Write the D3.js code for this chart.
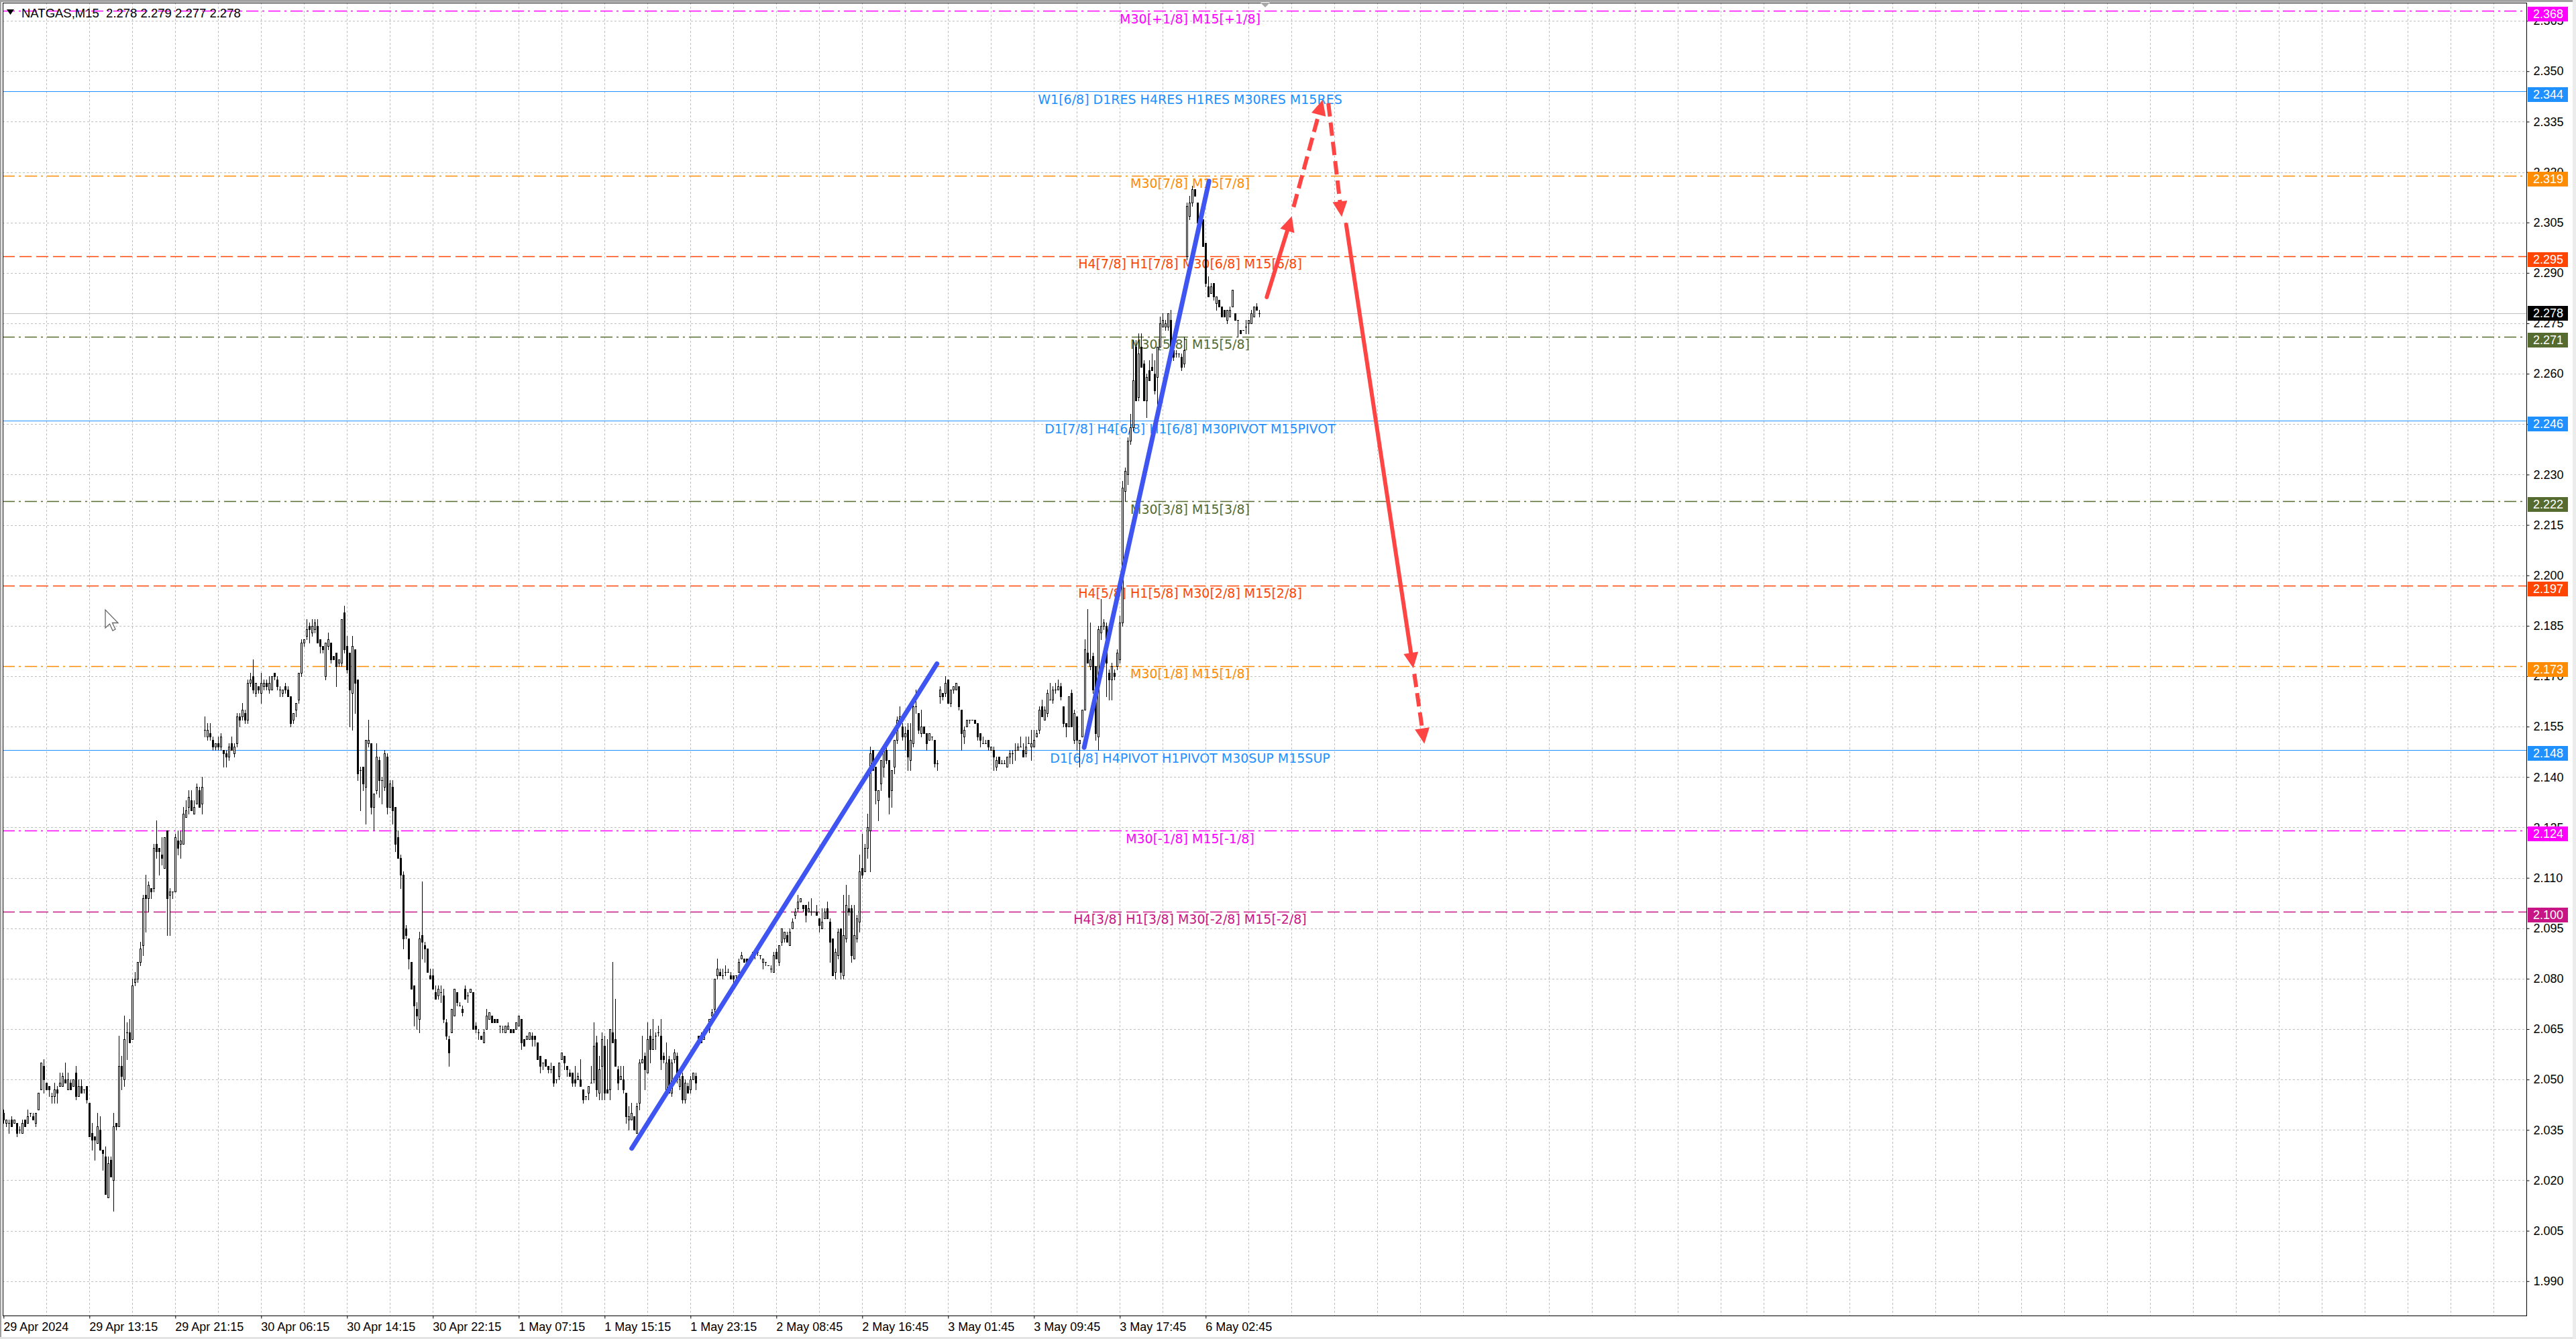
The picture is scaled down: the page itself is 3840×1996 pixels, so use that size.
<!DOCTYPE html>
<html>
<head>
<meta charset="utf-8">
<script src="https://cdn.jsdelivr.net/npm/d3@7"></script>
<style>
html, body { margin: 0; padding: 0; background: #fff; overflow: hidden; }
svg { display: block; }
</style>
</head>
<body>
<svg id="chart" width="3840" height="1996"></svg>
<script>
// NATGAS M15 candles, prices kept as thousandths above 2.000 (38 -> 2.038)
const opens = [
	40,37,37,38,37,37,35,34,38,37, 40,39,37,41,47,54,49,48,45,45,
	47,48,48,50,47,49,48,52,45,48, 47,48,43,34,33,31,35,29,27,15,
	26,20,37,36,54,50,64,64,62,79, 80,85,90,105,104,107,107,120,119,117,
	113,124,105,106,106,121,120,120,128,131, 133,129,132,136,132,154,152,153,151,149,
	150,149,148,147,146,150,147,150,158,158, 159,157,168,170,165,167,165,167,168,166,
	166,171,169,166,165,167,166,164,157,160, 163,171,180,182,185,183,184,185,181,179,
	170,179,180,176,177,174,174,189,179,177, 165,178,169,142,143,137,150,150,131,136,
	145,139,137,146,131,137,131,122,116,111, 95,92,85,78,71,68,93,90,89,81,
	81,76,75,76,75,67,62,64,69,76, 72,71,77,75,76,76,66,64,63,61,
	65,68,69,68,68,66,65,64,65,65, 65,65,66,68,62,62,62,63,63,61,
	57,55,56,54,53,54,50,51,56,57, 54,52,52,50,50,50,47,45,46,49,
	50,61,46,54,60,47,47,64,62,53, 50,50,46,38,38,39,34,43,55,57,
	52,63,59,63,64,63,57,47,56,46, 56,57,48,51,44,48,47,50,51,63,
	63,62,65,65,69,71,81,82,81,82, 82,81,81,81,82,86,86,86,86,87,
	88,88,87,85,85,84,83,82,88,85, 91,92,93,90,95,99,101,103,102,102,
	100,100,100,100,98,95,98,101,97,92, 82,87,95,81,92,101,101,86,92,97,
	113,112,119,124,148,143,133,138,143,148, 145,136,143,151,157,155,152,154,145,150,
	161,159,153,155,153,151,152,151,144,164, 165,165,169,162,166,166,167,160,152,155,
	157,157,157,156,153,150,150,151,148,148, 143,146,144,144,143,146,147,148,148,149,
	148,147,150,149,149,152,154,161,157,159, 163,163,166,166,167,161,156,155,165,151,
	158,150,152,160,177,173,176,173,152,183, 185,185,171,169,171,173,175,186,225,230,
	240,244,268,253,268,263,252,261,262,260, 259,268,274,274,274,276,267,266,266,265,
	263,295,307,311,315,311,305,306,299,286, 284,287,281,282,280,279,276,277,280,278,
	276,273,273,274,275,275,277,280,278
]
const highs = [
	41,38,38,39,38,37,36,38,38,41, 40,40,40,46,55,56,49,48,46,49,
	48,52,52,55,52,50,50,54,50,50, 47,48,43,37,33,40,39,29,30,27,
	27,40,37,63,57,69,67,68,80,82, 85,91,105,111,109,107,120,127,119,122,
	122,124,107,106,123,124,124,131,133,136, 136,133,138,137,140,158,156,156,152,150,
	152,153,148,148,150,152,150,159,159,162, 160,169,171,175,168,167,171,169,169,170,
	170,171,170,167,166,168,167,164,159,162, 171,181,181,187,186,187,187,187,181,179,
	180,183,180,176,177,175,187,191,182,177, 182,178,169,143,143,151,157,150,135,150,
	146,140,148,147,139,139,131,124,117,112, 96,92,85,78,73,94,109,91,89,83,
	83,78,78,78,77,68,63,71,77,76, 73,72,78,76,77,76,67,65,63,65,
	71,70,69,68,68,66,66,66,67,65, 65,67,69,68,62,63,64,64,63,61,
	57,55,56,54,55,54,50,55,58,57, 54,53,52,54,52,56,47,45,48,54,
	67,63,57,64,63,62,65,85,74,54, 54,54,46,42,43,39,43,56,63,58,
	67,65,68,64,66,68,58,61,57,56, 59,58,51,52,50,49,51,52,52,63,
	64,65,66,68,71,80,86,83,83,84, 83,82,81,81,86,88,86,86,86,88,
	88,89,87,86,85,84,84,88,89,90, 95,94,94,95,98,101,105,104,102,102,
	103,104,100,102,98,101,101,103,98,92, 89,95,95,105,108,105,102,102,99,117,
	123,120,129,149,148,143,136,145,148,151, 145,142,151,158,161,156,155,156,156,163,
	166,159,160,155,153,153,152,151,145,167, 165,170,169,166,167,168,167,160,155,157,
	157,157,157,156,153,152,151,151,149,149, 146,146,145,145,146,148,148,150,150,152,
	150,152,152,154,154,154,161,163,161,166, 168,167,168,169,168,161,156,164,166,160,
	158,151,160,181,190,186,177,173,185,193, 187,186,172,174,172,178,188,228,232,241,
	248,270,270,272,272,264,260,264,266,264, 268,277,278,276,278,279,269,267,266,266,
	271,311,313,316,315,311,306,306,299,289, 287,287,283,282,280,279,279,280,285,278,
	276,273,273,276,276,279,280,281,279
]
const lows = [
	37,36,34,36,37,33,34,34,36,37, 39,38,36,41,47,46,47,45,43,43,
	43,48,48,49,47,47,48,44,45,46, 46,43,33,29,26,31,29,23,16,15,
	21,11,35,36,47,48,56,61,62,78, 79,84,87,94,100,104,106,116,111,114,
	113,93,93,104,106,117,116,120,128,129, 130,129,132,131,129,152,151,151,148,148,
	148,148,143,143,145,148,146,149,155,157, 156,156,167,165,164,165,162,166,166,165,
	166,169,166,164,164,165,164,155,156,158, 162,170,179,181,180,182,183,180,177,177,
	169,178,174,175,167,173,173,177,171,155, 154,159,139,130,136,126,149,129,124,135,
	134,132,136,129,131,126,118,116,107,89, 92,83,77,66,65,64,86,85,82,80,
	77,74,74,73,67,62,54,64,69,72, 72,69,74,73,76,65,64,62,62,61,
	65,68,67,67,67,64,64,64,65,64, 64,65,66,59,60,62,62,60,60,56,
	52,53,54,52,52,48,49,50,56,53, 51,51,48,48,50,48,43,44,44,49,
	49,45,44,44,44,46,44,61,54,47, 50,46,37,35,38,35,34,41,55,47,
	52,55,59,59,63,53,55,46,46,45, 55,49,47,43,43,46,46,50,47,61,
	61,62,64,64,69,70,80,81,80,81, 82,80,79,80,82,86,85,85,86,86,
	86,87,86,83,84,84,82,82,86,84, 90,91,91,90,95,98,100,103,100,97,
	100,99,100,99,94,95,98,98,85,81, 80,86,80,80,91,99,85,86,91,94,
	110,112,116,112,142,132,127,136,140,144, 129,131,141,150,156,151,148,142,142,149,
	159,153,152,153,148,151,151,143,142,162, 163,164,162,161,165,166,160,148,150,155,
	156,157,156,151,149,150,150,148,148,142, 142,144,144,144,143,144,144,145,148,149,
	146,146,150,145,149,152,153,158,157,158, 163,162,165,166,163,155,152,155,155,150,
	148,143,152,160,175,172,165,151,148,181, 184,164,163,163,169,172,174,185,222,227,
	239,243,252,252,262,252,247,258,261,254, 251,268,274,273,273,267,264,265,265,261,
	262,294,306,310,313,305,305,298,286,283, 284,282,279,280,277,277,275,277,280,276,
	271,272,273,272,272,275,277,279,277
]
const closes = [
	38,38,37,36,38,34,35,37,36,39, 40,38,40,46,55,50,47,47,45,47,
	46,49,51,49,50,47,50,45,48,46, 47,44,33,32,32,36,29,28,16,25,
	21,36,36,54,51,62,64,61,78,80, 85,89,104,104,108,106,119,118,118,116,
	122,104,106,106,122,119,121,129,130,134, 130,131,137,131,137,154,154,152,149,150,
	149,152,147,146,149,148,149,158,157,160, 157,168,169,166,168,166,168,168,167,168,
	170,170,167,166,166,166,164,156,159,162, 171,180,181,184,184,185,186,180,179,178,
	180,181,175,175,173,175,187,178,172,166, 179,168,141,142,138,151,151,131,135,146,
	139,139,147,131,138,130,120,116,111,92, 93,86,77,72,69,92,91,89,82,80,
	77,74,77,76,68,63,58,71,77,73, 72,70,74,75,77,65,65,64,62,64,
	69,70,67,67,67,66,65,66,66,64, 64,67,69,61,60,63,64,62,62,56,
	54,55,54,53,53,49,50,55,58,55, 53,51,49,49,51,48,44,45,48,49,
	60,47,53,62,46,46,65,61,54,49, 51,47,39,39,40,35,42,55,56,53,
	62,59,62,63,64,56,56,55,46,55, 58,50,50,44,49,46,50,52,49,62,
	61,64,65,68,70,80,83,81,81,82, 82,80,80,81,85,87,85,85,86,87,
	88,88,87,86,85,84,83,87,86,90, 95,94,91,94,97,100,103,104,101,99,
	101,100,100,99,96,97,100,98,91,81, 88,94,82,93,102,100,87,93,98,112,
	111,119,125,147,142,136,136,145,148,145, 134,142,151,157,158,152,153,146,151,161,
	161,154,155,153,150,153,152,144,144,166, 164,168,162,166,167,168,161,153,154,157,
	157,157,156,152,151,150,150,149,149,146, 145,144,144,144,146,147,147,148,149,149,
	146,149,150,150,151,153,160,158,160,165, 163,166,166,167,164,156,155,164,155,159,
	151,151,160,178,174,175,166,153,184,185, 186,174,169,173,170,177,186,226,231,240,
	244,258,252,266,262,252,259,258,261,255, 268,275,276,275,278,267,265,266,266,262,
	267,310,311,315,313,305,305,298,287,283, 286,283,283,280,277,277,279,279,285,276,
	276,272,273,274,276,278,280,279,278
]

const timeLabelBars = [0, 32, 64, 96, 128, 160, 192, 224, 256, 288, 320, 352, 384, 416, 448]
const timeLabels = ['29 Apr 2024', '29 Apr 13:15', '29 Apr 21:15', '30 Apr 06:15', '30 Apr 14:15',
	'30 Apr 22:15', '1 May 07:15', '1 May 15:15', '1 May 23:15', '2 May 08:45', '2 May 16:45',
	'3 May 01:45', '3 May 09:45', '3 May 17:45', '6 May 02:45']

const priceTicks = [1.990, 2.005, 2.020, 2.035, 2.050, 2.065, 2.080, 2.095, 2.110, 2.125, 2.140,
	2.155, 2.170, 2.185, 2.200, 2.215, 2.230, 2.245, 2.260, 2.275, 2.290, 2.305, 2.320, 2.335,
	2.350, 2.365]

const levelPrices = [2.368, 2.344, 2.319, 2.295, 2.271, 2.246, 2.222, 2.197, 2.173, 2.148, 2.124, 2.100]
const levelKinds = ['mag', 'blue', 'orange', 'red', 'olive', 'blue', 'olive', 'red', 'orange', 'blue', 'mag', 'violet']
const levelLabels = [
	'M30[+1/8] M15[+1/8]',
	'W1[6/8] D1RES H4RES H1RES M30RES M15RES',
	'M30[7/8] M15[7/8]',
	'H4[7/8] H1[7/8] M30[6/8] M15[6/8]',
	'M30[5/8] M15[5/8]',
	'D1[7/8] H4[6/8] H1[6/8] M30PIVOT M15PIVOT',
	'M30[3/8] M15[3/8]',
	'H4[5/8] H1[5/8] M30[2/8] M15[2/8]',
	'M30[1/8] M15[1/8]',
	'D1[6/8] H4PIVOT H1PIVOT M30SUP M15SUP',
	'M30[-1/8] M15[-1/8]',
	'H4[3/8] H1[3/8] M30[-2/8] M15[-2/8]'
]
const lastPrice = 2.278
const title = 'NATGAS,M15  2.278 2.279 2.277 2.278'

// blue trend lines: [bar, price] start and end
const trendFrom = [[234.1, 2.0295], [402.7, 2.1488]]
const trendTo = [[347.85, 2.1737], [449.25, 2.3173]]

// red forecast arrows: [bar, price] start and end, dashed or not
const arrowFrom = [[470.75, 2.2828], [480.75, 2.3096], [493.7, 2.3405], [500.35, 2.3044], [525.75, 2.1707]]
const arrowTo = [[480.1, 2.3069], [491.6, 2.3415], [498.7, 2.3067], [525.35, 2.1724], [529.5, 2.1499]]
const arrowDashed = [false, true, true, false, true]

const kindStyle = {
	mag: { color: '#FF00FF', dash: '18,6,3,6' },
	blue: { color: '#1E90FF', dash: null },
	orange: { color: '#FF8C00', dash: '18,6,3,6' },
	red: { color: '#FF4500', dash: '18,7' },
	olive: { color: '#556B2F', dash: '18,6,3,6' },
	violet: { color: '#C71585', dash: '18,7' }
}

const plot = { left: 4, top: 4, right: 3766, bottom: 1961 }
const axisFont = 'Liberation Sans, Arial, sans-serif'
const labelFont = 'DejaVu Sans, Verdana, sans-serif'

const svg = d3.select('#chart')
const x = d3.scaleLinear().domain([0, 468]).range([5.3, 5.3 + 4 * 468])
const y = d3.scaleLinear().domain([1.990, 2.350]).range([1909.8, 106.2])
const px = v => 2 + v / 1000

// window frame
svg.append('rect').attr('x', 0).attr('y', 0).attr('width', 3840).attr('height', 1996).attr('fill', '#fff')
svg.append('rect').attr('x', 0).attr('y', 0).attr('width', 3840).attr('height', 3).attr('fill', '#a0a0a0')
svg.append('rect').attr('x', 0).attr('y', 0).attr('width', 2).attr('height', 1996).attr('fill', '#a0a0a0')
svg.append('rect').attr('x', 0).attr('y', 1993).attr('width', 3840).attr('height', 3).attr('fill', '#e3e3e3')
svg.append('rect').attr('x', 3835).attr('y', 0).attr('width', 5).attr('height', 1996).attr('fill', '#ececec')

const g = svg.append('g')

// grid
const gridBars = d3.range(16, 941, 16)
g.append('g').selectAll('line').data(gridBars).enter().append('line')
	.attr('x1', d => Math.round(x(d)) + 0.5).attr('x2', d => Math.round(x(d)) + 0.5)
	.attr('y1', plot.top).attr('y2', plot.bottom)
	.attr('stroke', '#c0c0c0').attr('stroke-width', 1).attr('stroke-dasharray', '3,3')
g.append('g').selectAll('line').data(priceTicks).enter().append('line')
	.attr('x1', plot.left).attr('x2', plot.right)
	.attr('y1', d => Math.round(y(d)) + 0.5).attr('y2', d => Math.round(y(d)) + 0.5)
	.attr('stroke', '#c0c0c0').attr('stroke-width', 1).attr('stroke-dasharray', '3,3')

// level lines
const levels = levelPrices.map((p, i) => ({ p, kind: levelKinds[i], label: levelLabels[i] }))
g.append('g').selectAll('line').data(levels).enter().append('line')
	.attr('x1', plot.left).attr('x2', plot.right)
	.attr('y1', d => Math.round(y(d.p)) + 0.5).attr('y2', d => Math.round(y(d.p)) + 0.5)
	.attr('stroke', d => kindStyle[d.kind].color)
	.attr('stroke-width', d => kindStyle[d.kind].dash ? 1.5 : 1.2)
	.attr('stroke-dasharray', d => kindStyle[d.kind].dash)

// current price line
g.append('line')
	.attr('x1', plot.left).attr('x2', plot.right)
	.attr('y1', Math.round(y(lastPrice)) + 0.5).attr('y2', Math.round(y(lastPrice)) + 0.5)
	.attr('stroke', '#c0c0c0').attr('stroke-width', 1)

// level texts
g.append('g').selectAll('text').data(levels).enter().append('text')
	.attr('x', 1774).attr('y', d => y(d.p) + 18.5)
	.attr('text-anchor', 'middle')
	.attr('font-family', labelFont).attr('font-size', '19px')
	.attr('fill', d => kindStyle[d.kind].color)
	.text(d => d.label)

// candles
const candles = opens.map((o, i) => ({ i, o: px(o), h: px(highs[i]), l: px(lows[i]), c: px(closes[i]) }))
const cg = g.append('g').attr('shape-rendering', 'crispEdges')
const cx = d => Math.round(x(d.i))
const ry = v => Math.round(y(v))
cg.selectAll('line.wick').data(candles).enter().append('line').attr('class', 'wick')
	.attr('x1', d => cx(d) + 0.5).attr('x2', d => cx(d) + 0.5)
	.attr('y1', d => ry(d.h)).attr('y2', d => ry(d.l) + 1)
	.attr('stroke', '#000').attr('stroke-width', 1)
cg.selectAll('rect.up').data(candles.filter(d => d.c > d.o)).enter().append('rect').attr('class', 'up')
	.attr('x', d => cx(d) - 0.5).attr('width', 2)
	.attr('y', d => ry(d.c) + 0.5)
	.attr('height', d => Math.max(ry(d.o) - ry(d.c), 1))
	.attr('fill', '#fff').attr('stroke', '#000').attr('stroke-width', 1)
cg.selectAll('rect.down').data(candles.filter(d => d.c < d.o)).enter().append('rect').attr('class', 'down')
	.attr('x', d => cx(d) - 1).attr('width', 3)
	.attr('y', d => ry(d.o))
	.attr('height', d => Math.max(ry(d.c) - ry(d.o), 1) + 1)
	.attr('fill', '#000')
cg.selectAll('line.doji').data(candles.filter(d => d.c === d.o)).enter().append('line').attr('class', 'doji')
	.attr('x1', d => cx(d) - 1).attr('x2', d => cx(d) + 2)
	.attr('y1', d => ry(d.c) + 0.5).attr('y2', d => ry(d.c) + 0.5)
	.attr('stroke', '#000').attr('stroke-width', 1)

// trend lines
g.append('g').selectAll('line').data(trendFrom.map((f, i) => [f, trendTo[i]])).enter().append('line')
	.attr('x1', d => x(d[0][0])).attr('y1', d => y(d[0][1]))
	.attr('x2', d => x(d[1][0])).attr('y2', d => y(d[1][1]))
	.attr('stroke', '#3F55F2').attr('stroke-width', 7).attr('stroke-linecap', 'round')

// forecast arrows
const arrows = arrowFrom.map((f, i) => ({ f, t: arrowTo[i], dashed: arrowDashed[i] }))
const ag = g.append('g')
arrows.forEach(a => {
	const x1 = x(a.f[0]), y1 = y(a.f[1]), x2 = x(a.t[0]), y2 = y(a.t[1])
	const len = Math.hypot(x2 - x1, y2 - y1)
	const ux = (x2 - x1) / len, uy = (y2 - y1) / len
	const head = 23, half = 11
	const bx = x2 - ux * head, by = y2 - uy * head
	ag.append('line')
		.attr('x1', x1).attr('y1', y1).attr('x2', bx + ux * 2).attr('y2', by + uy * 2)
		.attr('stroke', '#FF4444').attr('stroke-width', 6)
		.attr('stroke-linecap', a.dashed ? 'butt' : 'round')
		.attr('stroke-dasharray', a.dashed ? '20,9' : null)
	ag.append('path')
		.attr('d', `M${x2},${y2}L${bx - uy * half},${by + ux * half}L${bx + uy * half},${by - ux * half}Z`)
		.attr('fill', '#FF4444')
})

// plot border
svg.append('rect')
	.attr('x', plot.left + 0.5).attr('y', plot.top + 0.5)
	.attr('width', plot.right - plot.left).attr('height', plot.bottom - plot.top)
	.attr('fill', 'none').attr('stroke', '#000').attr('stroke-width', 1)

// right price axis
const yAxis = svg.append('g').attr('transform', `translate(${plot.right + 0.5},0)`)
	.call(d3.axisRight(y).tickValues(priceTicks).tickSize(4).tickPadding(6).tickFormat(d3.format('.3f')))
yAxis.select('.domain').remove()
yAxis.selectAll('line').attr('stroke', '#000')
yAxis.selectAll('text').attr('font-family', axisFont).attr('font-size', '18px').attr('fill', '#000')

// bottom time axis
const xAxis = svg.append('g').attr('transform', `translate(0,${plot.bottom + 0.5})`)
	.call(d3.axisBottom(x).tickValues(timeLabelBars).tickSize(4).tickPadding(5.5)
		.tickFormat((d, i) => timeLabels[i]))
xAxis.select('.domain').remove()
xAxis.selectAll('line').attr('stroke', '#000')
xAxis.selectAll('text').attr('text-anchor', 'start').attr('dx', '-0.5')
	.attr('font-family', axisFont).attr('font-size', '18px').attr('fill', '#000')

// price boxes on the axis
const boxes = svg.append('g')
levels.forEach(d => {
	const yy = Math.round(y(d.p))
	boxes.append('rect').attr('x', 3768).attr('y', yy - 6).attr('width', 60).attr('height', 22)
		.attr('fill', kindStyle[d.kind].color)
	boxes.append('text').attr('x', 3776).attr('y', yy + 5).attr('dy', '0.35em')
		.attr('font-family', axisFont).attr('font-size', '18px').attr('fill', '#fff')
		.text(d3.format('.3f')(d.p))
})
const ly = Math.round(y(lastPrice))
boxes.append('rect').attr('x', 3768).attr('y', ly - 11).attr('width', 60).attr('height', 22).attr('fill', '#000')
boxes.append('text').attr('x', 3776).attr('y', ly).attr('dy', '0.35em')
	.attr('font-family', axisFont).attr('font-size', '18px').attr('fill', '#fff')
	.text(d3.format('.3f')(lastPrice))

// title
svg.append('path').attr('d', 'M10,14L21,14L15.5,22Z').attr('fill', '#000')
svg.append('text').attr('x', 32).attr('y', 26)
	.attr('font-family', axisFont).attr('font-size', '18.5px').attr('fill', '#000')
	.style('white-space', 'pre')
	.text(title)

// chart shift marker
svg.append('path').attr('d', 'M1879,4L1893,4L1886,11Z').attr('fill', '#a8a8a8')

// mouse cursor
svg.append('path')
	.attr('d', 'M0,0L0,27L6.5,21L11,31L15,29L10.5,19.5L19,19.5Z')
	.attr('transform', 'translate(157,909)')
	.attr('fill', '#fff').attr('stroke', '#666').attr('stroke-width', 1.3)
</script>
</body>
</html>
